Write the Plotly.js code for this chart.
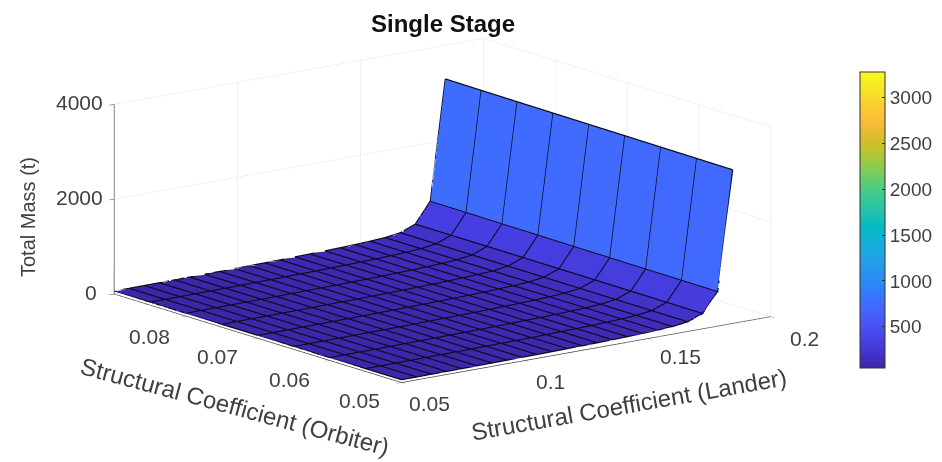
<!DOCTYPE html>
<html><head><meta charset="utf-8">
<script src="https://cdn.plot.ly/plotly-3.0.1.min.js"></script>
<style>html,body{margin:0;padding:0;background:#fff}#c{width:942px;height:462px}</style>
</head><body><div id="c"></div>
<script>
const lander = [0.05,0.0561,0.0622,0.0683,0.0745,0.0806,0.0867,0.0928,0.0989,0.105,0.1111,0.1173,0.1234,0.1295,0.1356,0.1417,0.1478,0.1539,0.16,0.1662,0.1723,0.1784,0.1845];
const orbiter = [0.05,0.055,0.06,0.065,0.07,0.075,0.08,0.085,0.09];
const mass050 = [50,51,53,55,57,60,62,65,69,72,76,81,86,92,100,108,119,132,151,194,312,720,3230];
const mass055 = [50,52,53,55,58,60,63,66,69,73,77,81,87,93,101,109,120,133,153,196,315,725,3236];
const mass060 = [50,52,54,56,58,60,63,66,70,73,77,82,88,94,101,110,121,134,154,197,318,730,3242];
const mass065 = [51,52,54,56,58,61,64,67,70,74,78,83,88,95,102,111,122,135,155,199,320,735,3248];
const mass070 = [51,52,54,56,59,61,64,67,71,75,79,83,89,95,103,112,123,136,156,200,323,740,3254];
const mass075 = [51,53,55,57,59,62,64,68,71,75,79,84,90,96,104,112,124,137,157,202,325,745,3260];
const mass080 = [51,53,55,57,60,62,65,68,72,76,80,85,90,97,104,113,124,138,158,203,327,750,3266];
const mass085 = [52,53,55,58,60,62,65,69,72,76,80,85,91,97,105,114,125,139,159,204,328,755,3272];
const mass090 = [52,54,56,58,61,63,66,69,73,77,81,86,92,98,106,115,126,140,160,205,330,760,3280];
const massRows = [mass050,mass055,mass060,mass065,mass070,mass075,mass080,mass085,mass090];
const xTicks = [0.05,0.1,0.15,0.2], xTickText = ['0.05','0.1','0.15','0.2'];
const yTicks = [0.05,0.06,0.07,0.08], yTickText = ['0.05','0.06','0.07','0.08'];
const zTicks = [0,2000,4000];
const cbTicks = [500,1000,1500,2000,2500,3000];
const parula = ['#3e26a8','#4332cb','#4741e5','#4852f4','#4563fd','#3875fe','#2e87f7','#2796eb','#20a5e3','#12b1d6','#02bac3','#24c1ae','#37c897','#57cc7a','#80cc59','#abc739','#d1bf27','#efba36','#fec338','#f9d62d','#f5e924','#f9fb15'];
const colorscale = parula.map((c,i)=>[i/(parula.length-1),c]);

const xd=[], idx=[], cidx=[];
lander.forEach((v,i)=>{
  if(i>0){xd.push(v);idx.push(i);cidx.push(i-1);}
  if(i<lander.length-1){xd.push(v);idx.push(i);cidx.push(i);}
});
const zd = massRows.map(r=>idx.map(i=>r[i]));
const cd = massRows.map(r=>cidx.map(i=>r[i]));

const traces=[{
  type:'surface',x:xd,y:orbiter,z:zd,surfacecolor:cd,cmin:50,cmax:3280,colorscale,
  hoverinfo:'skip',
  lighting:{ambient:1,diffuse:0,specular:0,fresnel:0,roughness:1},
  colorbar:{x:860/942,xanchor:'left',xref:'paper',y:1-220/462,yanchor:'middle',lenmode:'pixels',len:296,thicknessmode:'pixels',thickness:25,
    tickmode:'array',tickvals:cbTicks,ticks:'inside',ticklen:3,tickcolor:'#333',outlinecolor:'#333',outlinewidth:1,
    tickfont:{family:'Liberation Sans',size:19,color:'#404040'},xpad:0,ypad:0}
}];
const lineStyle={color:'#0a0a20',width:2.5};
const meshLift=10;
massRows.forEach((r,j)=>traces.push({type:'scatter3d',mode:'lines',x:lander,y:lander.map(()=>orbiter[j]),z:r.map(v=>v+meshLift),line:lineStyle,hoverinfo:'skip',showlegend:false}));
lander.forEach((v,i)=>traces.push({type:'scatter3d',mode:'lines',x:orbiter.map(()=>v),y:orbiter,z:massRows.map(r=>r[i]+meshLift),line:lineStyle,hoverinfo:'skip',showlegend:false}));

const tf={family:'Liberation Sans',size:21,color:'#404040'};
const ax=(range,vals)=>({title:{text:''},range,autorange:false,tickmode:'array',tickvals:vals,showticklabels:false,
  showgrid:true,gridcolor:'#e4e4e4',gridwidth:1,showbackground:false,showline:true,linecolor:'#404040',linewidth:1.5,ticks:'outside',ticklen:6,tickcolor:'#404040',zeroline:false,showspikes:false});
const sceneNotes=[];
const xShifts=[[28,-20],[26,-20],[32,-17],[33,-21]];
const yShifts=[[-42,-17],[-40,-18],[-40,-17],[-37,-20]];
const zShifts=[-15,-9,-9];
xTicks.forEach((v,i)=>sceneNotes.push({x:v,y:0.05,z:0,text:xTickText[i],showarrow:false,font:tf,xshift:xShifts[i][0],yshift:xShifts[i][1]}));
yTicks.forEach((v,i)=>sceneNotes.push({x:0.05,y:v,z:0,text:yTickText[i],showarrow:false,font:tf,xshift:yShifts[i][0],yshift:yShifts[i][1]}));
zTicks.forEach((v,i)=>sceneNotes.push({x:0.05,y:0.09,z:v,text:String(v),showarrow:false,font:tf,xanchor:'right',xshift:zShifts[i],yshift:2}));
const axisTitle=(text,px,py,angle,size)=>({xref:'paper',yref:'paper',x:px/942,y:1-py/462,text,textangle:angle,showarrow:false,font:{family:'Liberation Sans',size,color:'#404040'},xanchor:'center',yanchor:'middle'});
const layout={
  width:942,height:462,margin:{l:0,r:0,t:0,b:0},paper_bgcolor:'#fff',showlegend:false,
  title:{text:'<b>Single Stage</b>',font:{family:'Liberation Sans',size:24,color:'#111'},x:443/942,xanchor:'center',y:1-24/462,yanchor:'middle'},
  annotations:[
    axisTitle('Structural Coefficient (Orbiter)',235,406,15,24),
    axisTitle('Structural Coefficient (Lander)',629,404,-10,24),
    axisTitle('Total Mass (t)',28,217,-90,20)
  ],
  scene:{
    domain:{x:[0,0.94],y:[0.1,0.986]},
    aspectmode:'manual',aspectratio:{x:2.27,y:2.32,z:0.954},
    camera:{projection:{type:'orthographic'},eye:{x:-1.18,y:-1.55,z:0.47},up:{x:0,y:0,z:1},center:{x:0,y:0,z:0}},
    xaxis:ax([0.05,0.2],xTicks),
    yaxis:ax([0.05,0.09],yTicks),
    zaxis:ax([0,4000],zTicks),
    annotations:sceneNotes
  }
};
Plotly.newPlot('c',traces,layout,{displayModeBar:false});
</script></body></html>
